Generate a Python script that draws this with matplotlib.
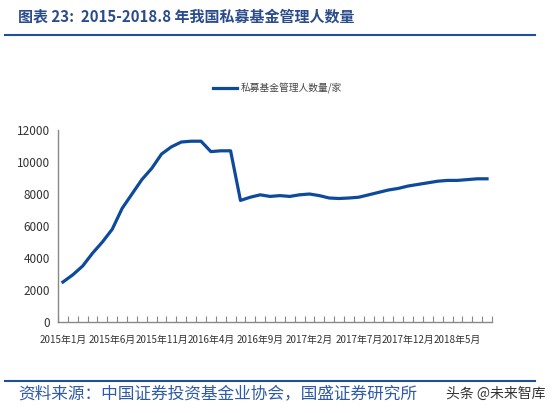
import matplotlib
matplotlib.use('Agg')
import matplotlib.pyplot as plt
from matplotlib.lines import Line2D

plt.rcParams['font.family'] = ['Noto Sans CJK SC', 'DejaVu Sans']

# monthly counts, 2015-01 .. 2018-08
values = [2500, 2950, 3500, 4300, 5000, 5800, 7100, 8000, 8900, 9600,
          10500, 10950, 11250, 11300, 11300, 10650, 10700, 10700, 7600, 7800,
          7950, 7850, 7900, 7850, 7950, 8000, 7900, 7750, 7720, 7750,
          7800, 7950, 8100, 8250, 8350, 8500, 8600, 8700, 8800, 8850,
          8850, 8900, 8950, 8950]
tick_labels = ['2015年1月', '2015年6月', '2015年11月', '2016年4月', '2016年9月',
               '2017年2月', '2017年7月', '2017年12月', '2018年5月']
series_name = '私募基金管理人数量/家'

blue = '#0D4A9C'
grey_txt = '#333333'

fig = plt.figure(figsize=(5.54, 4.13), dpi=100)
ax = fig.add_axes([0.1047, 0.2203, 0.7833, 0.4649])

x = list(range(len(values)))
ax.plot(x, values, color=blue, lw=2.3, solid_joinstyle='round')

ax.set_xlim(-0.5, len(values) - 0.5)
ax.set_ylim(0, 12000)
ax.set_yticks(range(0, 12001, 2000))
ax.tick_params(axis='y', length=0, pad=6, labelsize=8.5, labelcolor=grey_txt)

bounds = [i - 0.5 for i in range(len(values) + 1)]
ax.set_xticks(bounds)
ax.set_xticklabels([])
ax.tick_params(axis='x', which='major', direction='in', length=4, color='#888888')
ax.set_xticks(list(range(0, len(values), 5)), tick_labels, minor=True)
ax.tick_params(axis='x', which='minor', length=0, pad=9, labelsize=7.1, labelcolor=grey_txt)

for s in ['top', 'right']:
    ax.spines[s].set_visible(False)
for s in ['left', 'bottom']:
    ax.spines[s].set_color('#888888')
    ax.spines[s].set_linewidth(1.0)

# legend
fig.add_artist(Line2D([213 / 554, 237 / 554], [1 - 88 / 413] * 2, color=blue, lw=2.3))
fig.text(241 / 554, 1 - 88 / 413, series_name, fontsize=7, color='#444444', va='center')

# title and rules
fig.text(18 / 554, 1 - 17 / 413, '图表 23:  2015-2018.8 年我国私募基金管理人数量',
         fontsize=10.8, color='#2B4C8C', fontweight='bold', style='italic', va='center')
fig.add_artist(Line2D([5 / 554, 535 / 554], [1 - 35 / 413] * 2, color='#1F4E9C', lw=1.5))
fig.add_artist(Line2D([5 / 554, 535 / 554], [1 - 381 / 413] * 2, color='#1F4E9C', lw=1.5))
fig.text(18 / 554, 1 - 394 / 413, '资料来源：中国证券投资基金业协会，国盛证券研究所',
         fontsize=12, color='#2E5AA8', style='italic', va='center')
fig.text(545 / 554, 1 - 394 / 413, '头条 @未来智库', fontsize=10, color='#333333',
         ha='right', va='center')

fig.savefig('out.png', dpi=100)
